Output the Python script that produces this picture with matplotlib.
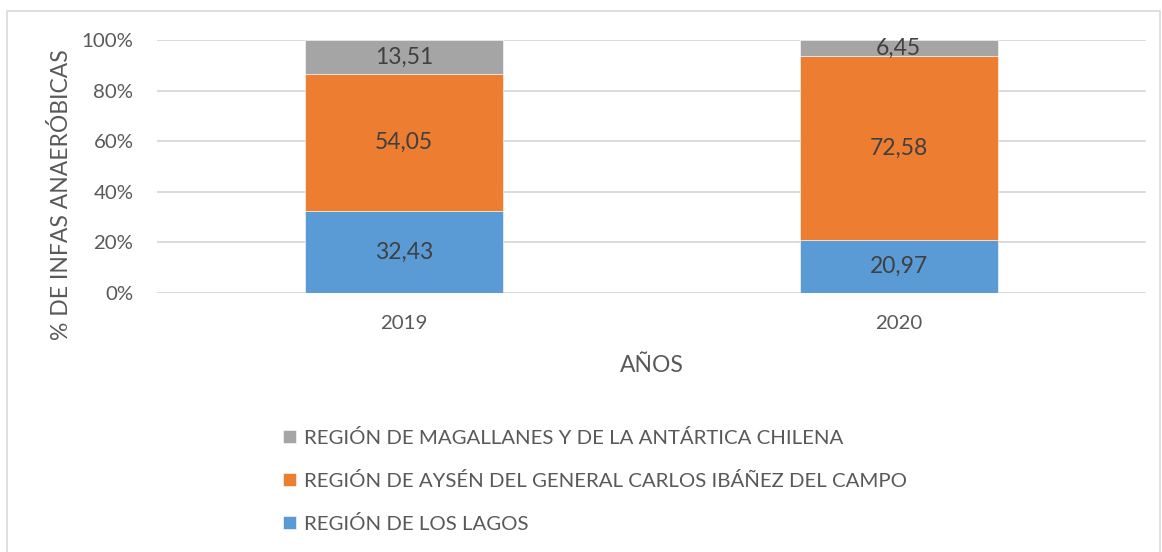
import numpy as np
import matplotlib.pyplot as plt
from matplotlib.patches import Rectangle

plt.rcParams['font.family'] = ['Lato', 'DejaVu Sans']

years = ['2019', '2020']
los_lagos = [32.43, 20.97]
aysen = [54.05, 72.58]
magallanes = [13.51, 6.45]

series = [
    ('REGIÓN DE LOS LAGOS', los_lagos, '#5B9BD5'),
    ('REGIÓN DE AYSÉN DEL GENERAL CARLOS IBÁÑEZ DEL CAMPO', aysen, '#ED7D31'),
    ('REGIÓN DE MAGALLANES Y DE LA ANTÁRTICA CHILENA', magallanes, '#A5A5A5'),
]

fig = plt.figure(figsize=(11.62, 5.52), dpi=100)
ax = fig.add_axes([0.1351, 0.4692, 0.8511, 0.4583])

# outer chart border
fig.patches.append(Rectangle((0.006, -0.05), 0.992, 1.03, transform=fig.transFigure,
                             fill=False, edgecolor='#D9D9D9', linewidth=1.2))

x = np.arange(len(years))
bottom = np.zeros(len(years))
handles = []
for name, vals, col in series:
    vals = np.array(vals)
    b = ax.bar(x, vals, 0.4, bottom=bottom, color=col, label=name,
               edgecolor='white', linewidth=0.4, zorder=3)
    handles.append(b)
    for xi, v, bt in zip(x, vals, bottom):
        ax.text(xi, bt + v / 2, f'{v:.2f}'.replace('.', ','), ha='center', va='center',
                fontsize=16.5, color='#404040', zorder=4)
    bottom += vals

ax.set_xlim(-0.5, 1.5)
ax.set_ylim(0, 100)
ax.set_yticks(np.arange(0, 101, 20))
ax.set_yticklabels([f'{v}%' for v in range(0, 101, 20)])
ax.set_xticks(x)
ax.set_xticklabels(years)
ax.tick_params(length=0, labelsize=14.7, labelcolor='#595959')
ax.tick_params(axis='x', pad=16)
ax.tick_params(axis='y', pad=17)
ax.grid(axis='y', color='#D9D9D9', linewidth=1.3, zorder=0)
for s in ax.spines.values():
    s.set_visible(False)

ax.set_xlabel('AÑOS', fontsize=16.5, color='#595959')
ax.set_ylabel('% DE INFAS ANAERÓBICAS', fontsize=16.5, color='#595959')
ax.xaxis.set_label_coords(0.5, -0.247)
ax.yaxis.set_label_coords(-0.086, 0.39)

fig.legend(handles=handles[::-1], labels=[s[0] for s in series][::-1],
           loc='upper left', bbox_to_anchor=(0.235, 0.241), frameon=False,
           fontsize=14.7, labelcolor='#595959', handlelength=0.6, handleheight=0.6,
           handletextpad=0.4, labelspacing=1.22, borderpad=0)

fig.savefig('out.png', dpi=100)
